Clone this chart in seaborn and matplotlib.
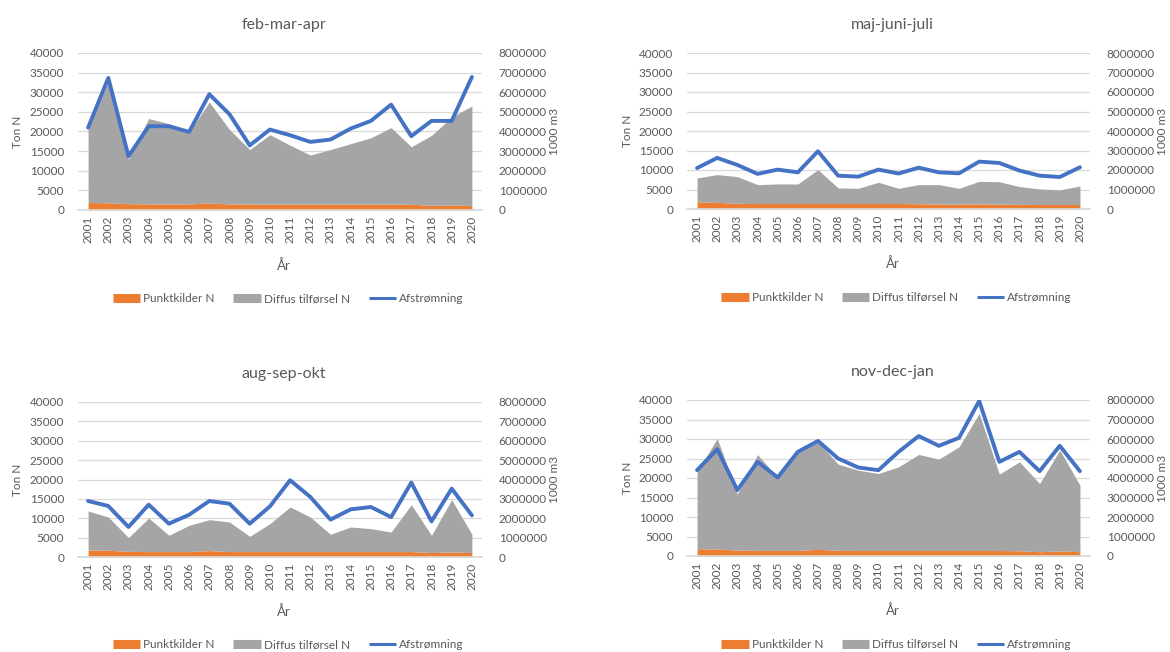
import numpy as np
import pandas as pd
import matplotlib
matplotlib.use("Agg")
import matplotlib.pyplot as plt
from matplotlib.lines import Line2D
import seaborn as sns

years = [str(y) for y in range(2001, 2021)]
titles = ["feb-mar-apr", "maj-juni-juli", "aug-sep-okt", "nov-dec-jan"]

# Punktkilder N (ton N)
punkt_fma = [1900, 1850, 1600, 1550, 1550, 1550, 1800, 1550, 1500, 1500, 1500, 1500, 1500, 1500, 1500, 1500, 1450, 1200, 1300, 1150]
punkt_mjj = [1850, 1700, 1450, 1400, 1400, 1400, 1400, 1400, 1400, 1400, 1400, 1350, 1250, 1250, 1300, 1250, 1200, 1150, 1150, 1150]
punkt_aso = [1800, 1750, 1450, 1400, 1400, 1400, 1650, 1400, 1400, 1400, 1400, 1400, 1400, 1400, 1400, 1400, 1400, 1150, 1300, 1150]
punkt_ndj = [1850, 1800, 1500, 1450, 1450, 1450, 1700, 1450, 1400, 1400, 1400, 1400, 1400, 1400, 1400, 1400, 1350, 1100, 1300, 1100]

# Diffus tilførsel N (ton N)
diffus_fma = [18900, 30750, 11300, 21750, 20450, 18350, 25700, 18950, 13900, 17700, 15000, 12500, 13900, 15400, 16900, 19500, 14650, 17800, 22400, 25350]
diffus_mjj = [6120, 7120, 6850, 4850, 5020, 5020, 8700, 4000, 3900, 5450, 3900, 4900, 5000, 4050, 5800, 5750, 4540, 3990, 3730, 4750]
diffus_aso = [10070, 8570, 3550, 8660, 4200, 6770, 7980, 7630, 3930, 7200, 11500, 8920, 4450, 6340, 5910, 5050, 12100, 4450, 13500, 4700]
diffus_ndj = [19730, 28350, 14400, 24550, 18680, 25700, 27600, 22100, 20600, 19750, 21470, 24640, 23440, 26600, 35170, 19600, 22800, 17490, 25850, 17060]

# Afstrømning (1000 m3)
afstr_fma = [4200000, 6730000, 2740000, 4270000, 4270000, 3980000, 5900000, 4880000, 3290000, 4100000, 3810000, 3470000, 3590000, 4150000, 4540000, 5370000, 3760000, 4540000, 4540000, 6780000]
afstr_mjj = [2100000, 2620000, 2260000, 1800000, 2020000, 1880000, 2960000, 1710000, 1660000, 2020000, 1820000, 2120000, 1880000, 1830000, 2430000, 2360000, 1970000, 1710000, 1640000, 2140000]
afstr_aso = [2890000, 2630000, 1550000, 2700000, 1720000, 2180000, 2890000, 2750000, 1720000, 2610000, 3960000, 3100000, 1930000, 2460000, 2580000, 2060000, 3840000, 1840000, 3530000, 2150000]
afstr_ndj = [4400000, 5480000, 3380000, 4830000, 4030000, 5340000, 5900000, 5000000, 4540000, 4400000, 5340000, 6150000, 5650000, 6060000, 7950000, 4830000, 5340000, 4350000, 5650000, 4350000]

left_ticks = list(range(0, 40001, 5000))
right_ticks = list(range(0, 8000001, 1000000))

series = [
    (punkt_fma, diffus_fma, afstr_fma),
    (punkt_mjj, diffus_mjj, afstr_mjj),
    (punkt_aso, diffus_aso, afstr_aso),
    (punkt_ndj, diffus_ndj, afstr_ndj),
]

ORANGE = "#ED7D31"
GREY = "#A5A5A5"
BLUE = "#4472C4"
TXT = "#595959"
GRID = "#D9D9D9"

sns.set_theme(style="white")
plt.rcParams["font.family"] = ["Lato", "DejaVu Sans"]

W, H = 1170, 652
fig = plt.figure(figsize=(W / 100, H / 100), dpi=100)

# axes rectangles in pixel coords: left, top, right, bottom
rects = [(78, 53, 482, 210), (687, 53, 1090, 209), (78, 402, 482, 557), (687, 400, 1090, 556)]

for (l, t, r, b), title, (punkt, diffus, afstr) in zip(rects, titles, series):
    ax = fig.add_axes([l / W, 1 - b / H, (r - l) / W, (b - t) / H])
    df = pd.DataFrame({"pos": np.arange(len(years)), "year": years,
                       "punkt": punkt, "diffus": diffus, "afstr": afstr})
    ax.stackplot(df["pos"], df["punkt"], df["diffus"], colors=[ORANGE, GREY],
                 linewidth=0, zorder=2)
    ax.set_xlim(-0.5, len(years) - 0.5)
    ax.set_ylim(0, 40000)
    ax.set_yticks(left_ticks)
    ax.set_yticklabels([str(v) for v in left_ticks])
    ax.set_xticks(df["pos"])
    ax.set_xticklabels(years, rotation=90)
    ax.set_xticks(np.arange(-0.5, len(years), 1), minor=True)
    ax.grid(axis="y", color=GRID, linewidth=0.9, zorder=0)
    ax.set_axisbelow(True)
    for s in ["top", "left", "right"]:
        ax.spines[s].set_visible(False)
    ax.spines["bottom"].set_color(GRID)
    ax.tick_params(axis="x", which="major", length=0, labelsize=8.5, labelcolor=TXT, pad=4)
    ax.tick_params(axis="x", which="minor", length=4, color=GRID, width=0.9)
    ax.tick_params(axis="y", length=0, labelsize=8.5, labelcolor=TXT, pad=10)
    ax.set_xlabel("År", fontsize=9.5, color=TXT)
    ax.xaxis.set_label_coords(0.51, -0.31)
    ax.set_ylabel("Ton N", fontsize=8.5, color=TXT)
    ax.yaxis.set_label_coords(-0.135, 0.5)
    ax.text(0.51, 1.18, title, transform=ax.transAxes, ha="center", va="center",
            fontsize=11.5, color=TXT)

    ax2 = ax.twinx()
    sns.lineplot(data=df, x="pos", y="afstr", ax=ax2, color=BLUE, linewidth=2.8,
                 zorder=5, legend=False)
    ax2.set_xlim(-0.5, len(years) - 0.5)
    ax2.set_ylim(0, 8000000)
    ax2.set_yticks(right_ticks)
    ax2.set_yticklabels([str(v) for v in right_ticks])
    ax2.tick_params(axis="y", length=0, labelsize=8.5, labelcolor=TXT, pad=12)
    for s in ["top", "left", "right", "bottom"]:
        ax2.spines[s].set_visible(False)
    ax2.set_ylabel("1000 m3", fontsize=8.5, color=TXT)
    ax2.yaxis.set_label_coords(1.166, 0.5)
    ax2.set_xlabel("")

    handles = [
        Line2D([0], [0], color=ORANGE, linewidth=6.5, solid_capstyle="butt"),
        Line2D([0], [0], color=GREY, linewidth=6.5, solid_capstyle="butt"),
        Line2D([0], [0], color=BLUE, linewidth=2.2, solid_capstyle="butt"),
    ]
    labels = ["Punktkilder N", "Diffus tilførsel N", "Afstrømning"]
    ax.legend(handles, labels, loc="center", bbox_to_anchor=(0.52, -0.565), ncol=3,
              frameon=False, fontsize=8.5, labelcolor=TXT, handlelength=2.3,
              handletextpad=0.25, columnspacing=1.6)

fig.savefig("out.png", dpi=100)
